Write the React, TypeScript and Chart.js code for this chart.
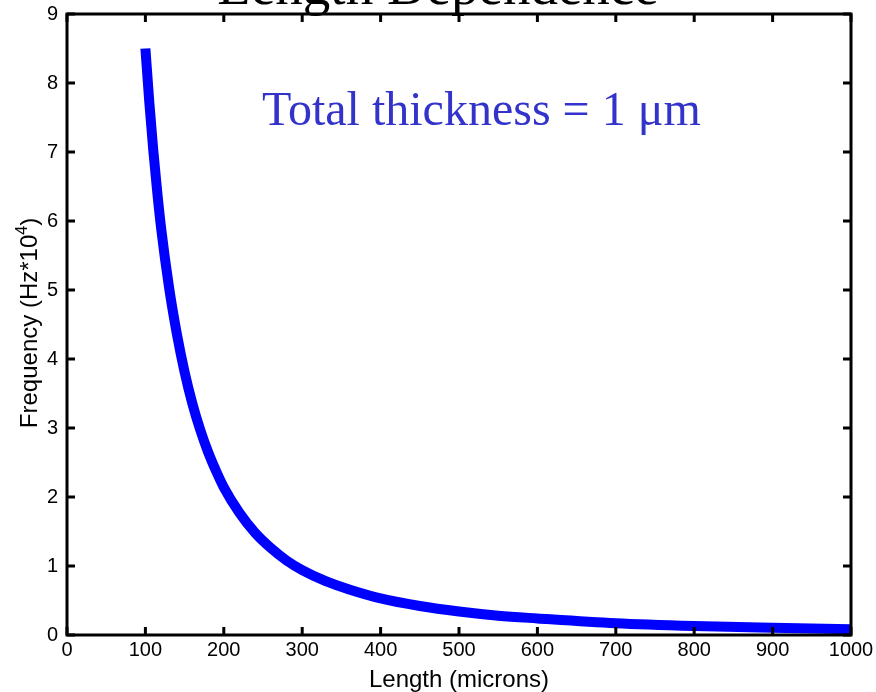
import React, { useEffect, useRef } from "react";
import { Chart, registerables } from "chart.js";

Chart.register(...registerables);

const lengths = [100, 105, 110, 115, 120, 130, 140, 150, 160, 170, 180, 190, 200, 220, 240, 260, 280, 300, 330, 360, 400, 450, 500, 550, 600, 700, 800, 900, 1000];
const frequencies = [8.5, 7.72, 7.03, 6.43, 5.9, 5.05, 4.37, 3.81, 3.35, 2.97, 2.65, 2.38, 2.14, 1.77, 1.48, 1.26, 1.08, 0.94, 0.78, 0.66, 0.53, 0.42, 0.34, 0.28, 0.24, 0.17, 0.13, 0.105, 0.085];
const xTicks = [0, 100, 200, 300, 400, 500, 600, 700, 800, 900, 1000];
const yTicks = [0, 1, 2, 3, 4, 5, 6, 7, 8, 9];
const titleText = "Length Dependence";
const annotationText = "Total thickness = 1 \u03bcm";
const xTitle = "Length (microns)";
const yTitle = "Frequency (Hz*10";
const yTitleSup = "4";

const SANS = "'Liberation Sans', Arial, sans-serif";
const SERIF = "'Liberation Serif', 'Times New Roman', serif";

const framePlugin = {
  id: "framePlugin",
  afterDraw(chart: any) {
    const { ctx, chartArea } = chart;
    const { left, right, top, bottom } = chartArea;
    const xs = chart.scales.x;
    const ys = chart.scales.y;
    ctx.save();
    ctx.strokeStyle = "#000";
    ctx.lineWidth = 3;
    ctx.strokeRect(left, top, right - left, bottom - top);
    const tl = 8;
    ctx.beginPath();
    xTicks.forEach((v) => {
      const px = xs.getPixelForValue(v);
      ctx.moveTo(px, bottom);
      ctx.lineTo(px, bottom - tl);
      ctx.moveTo(px, top);
      ctx.lineTo(px, top + tl);
    });
    yTicks.forEach((v) => {
      const py = ys.getPixelForValue(v);
      ctx.moveTo(left, py);
      ctx.lineTo(left + tl, py);
      ctx.moveTo(right, py);
      ctx.lineTo(right - tl, py);
    });
    ctx.stroke();

    // Title (partly cut at top)
    ctx.fillStyle = "#000";
    ctx.font = "55px " + SERIF;
    ctx.textAlign = "center";
    ctx.textBaseline = "alphabetic";
    ctx.fillText(titleText, 438, 4);

    // Annotation
    ctx.fillStyle = "#3333cc";
    ctx.font = "48px " + SERIF;
    ctx.textAlign = "left";
    ctx.fillText(annotationText, 262, 125);

    // X title
    ctx.fillStyle = "#000";
    ctx.font = "24px " + SANS;
    ctx.textAlign = "center";
    ctx.fillText(xTitle, 459, 687);

    // Y title rotated with superscript
    ctx.translate(37, 323);
    ctx.rotate(-Math.PI / 2);
    ctx.font = "24px " + SANS;
    const mainW = ctx.measureText(yTitle).width;
    ctx.font = "16px " + SANS;
    const supW = ctx.measureText(yTitleSup).width;
    ctx.font = "24px " + SANS;
    const closeW = ctx.measureText(")").width;
    const total = mainW + supW + closeW;
    const x0 = -total / 2;
    ctx.textAlign = "left";
    ctx.fillText(yTitle, x0, 0);
    ctx.font = "16px " + SANS;
    ctx.fillText(yTitleSup, x0 + mainW, -10);
    ctx.font = "24px " + SANS;
    ctx.fillText(")", x0 + mainW + supW, 0);
    ctx.restore();
  },
};

export default function App() {
  const ref = useRef<HTMLCanvasElement>(null);
  useEffect(() => {
    if (!ref.current) return;
    const chart = new Chart(ref.current, {
      type: "line",
      data: {
        datasets: [
          {
            data: lengths.map((l, i) => ({ x: l, y: frequencies[i] })),
            borderColor: "#0000ff",
            borderWidth: 10,
            pointRadius: 0,
            fill: false,
            cubicInterpolationMode: "monotone",
            borderCapStyle: "butt",
          },
        ],
      },
      options: {
        responsive: false,
        animation: false,
        layout: { padding: { left: 0, right: 25, top: 14, bottom: 0 } },
        plugins: { legend: { display: false }, tooltip: { enabled: false }, title: { display: false } },
        scales: {
          x: {
            type: "linear",
            min: 0,
            max: 1000,
            afterFit: (s: any) => { s.height = 57; s.paddingLeft = 0; s.paddingRight = 0; },
            afterBuildTicks: (s: any) => { s.ticks = xTicks.map((v) => ({ value: v })); },
            ticks: { color: "#000", font: { family: SANS, size: 20 }, padding: 3, maxRotation: 0, autoSkip: false, callback: (v: any) => String(v) },
            grid: { display: false, drawTicks: false },
            border: { display: false },
          },
          y: {
            type: "linear",
            min: 0,
            max: 9,
            afterFit: (s: any) => { s.width = 67; s.paddingTop = 0; s.paddingBottom = 0; },
            afterBuildTicks: (s: any) => { s.ticks = yTicks.map((v) => ({ value: v })); },
            ticks: { color: "#000", font: { family: SANS, size: 20 }, padding: 9, autoSkip: false, callback: (v: any) => String(v) },
            grid: { display: false, drawTicks: false },
            border: { display: false },
          },
        },
      },
      plugins: [framePlugin],
    } as any);
    return () => chart.destroy();
  }, []);
  return (
    <div style={{ position: "absolute", left: 0, top: 0, width: 876, height: 692, background: "#fff" }}>
      <canvas ref={ref} width={876} height={692} style={{ width: 876, height: 692 }} />
    </div>
  );
}
